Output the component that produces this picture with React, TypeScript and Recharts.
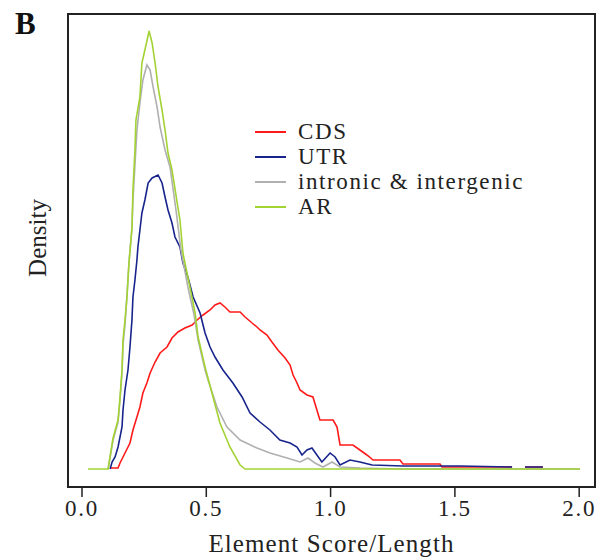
import React from "react";
import { LineChart, Line, XAxis, YAxis, Legend, ReferenceArea } from "recharts";

const seriesNames = ["CDS", "UTR", "intronic & intergenic", "AR"];
const seriesColors = ["#ff1a1a", "#17248c", "#b0b0b0", "#a2d332"];

const xTicks = [0, 0.5, 1, 1.5, 2];

// [element score / length, density]  (null = gap in the curve)
const cds: [number, number | null][] = [
  [0.113, 0.01], [0.145, 0.01], [0.153, 0.06], [0.173, 0.16], [0.193, 0.26], [0.205, 0.39],
  [0.221, 0.52], [0.233, 0.62], [0.245, 0.76], [0.261, 0.86], [0.274, 0.96], [0.294, 1.07],
  [0.314, 1.16], [0.342, 1.22], [0.362, 1.31], [0.386, 1.37], [0.414, 1.41], [0.443, 1.44],
  [0.463, 1.49], [0.487, 1.54], [0.515, 1.59], [0.535, 1.64], [0.555, 1.66], [0.575, 1.62],
  [0.595, 1.57], [0.636, 1.57], [0.656, 1.52], [0.684, 1.46], [0.704, 1.42], [0.716, 1.39],
  [0.744, 1.34], [0.764, 1.27], [0.788, 1.19], [0.817, 1.11], [0.837, 1.04], [0.849, 0.94],
  [0.865, 0.86], [0.877, 0.79], [0.905, 0.74], [0.929, 0.72], [0.957, 0.49], [1.01, 0.49],
  [1.026, 0.42], [1.038, 0.24], [1.09, 0.24], [1.118, 0.19], [1.146, 0.14], [1.171, 0.09],
  [1.279, 0.09], [1.291, 0.05], [1.44, 0.05], [1.448, 0.02], [1.73, 0.02], [1.756, null],
  [1.782, 0.02], [1.854, 0.02],
];

const utr: [number, number | null][] = [
  [0.113, 0], [0.121, 0.07], [0.133, 0.12], [0.145, 0.22], [0.161, 0.42], [0.165, 0.59],
  [0.173, 0.79], [0.185, 0.99], [0.193, 1.22], [0.201, 1.49], [0.205, 1.72], [0.213, 1.89],
  [0.221, 2.09], [0.225, 2.22], [0.233, 2.39], [0.241, 2.56], [0.253, 2.69], [0.266, 2.86],
  [0.282, 2.91], [0.306, 2.94], [0.322, 2.86], [0.334, 2.72], [0.346, 2.59], [0.362, 2.46],
  [0.374, 2.32], [0.394, 2.22], [0.406, 2.06], [0.426, 1.92], [0.447, 1.72], [0.475, 1.56],
  [0.495, 1.36], [0.515, 1.22], [0.535, 1.12], [0.567, 0.99], [0.607, 0.86], [0.644, 0.72],
  [0.676, 0.56], [0.716, 0.47], [0.756, 0.39], [0.796, 0.29], [0.837, 0.26], [0.865, 0.22],
  [0.885, 0.14], [0.905, 0.19], [0.925, 0.21], [0.965, 0.07], [0.998, 0.16], [1.018, 0.12],
  [1.038, 0.04], [1.078, 0.09], [1.118, 0.07], [1.167, 0.04], [1.291, 0.03], [1.521, 0.03],
  [1.73, 0.02], [1.756, null], [1.782, 0.02], [1.854, 0.02],
];

const intronic: [number, number | null][] = [
  [0.105, 0], [0.125, 0.29], [0.145, 0.47], [0.153, 0.69], [0.161, 0.97], [0.165, 1.24],
  [0.173, 1.44], [0.181, 1.74], [0.189, 2.07], [0.201, 2.41], [0.205, 2.69], [0.213, 3.04],
  [0.221, 3.39], [0.233, 3.66], [0.245, 3.89], [0.261, 4.04], [0.274, 3.99], [0.286, 3.82],
  [0.302, 3.62], [0.314, 3.42], [0.334, 3.19], [0.354, 3.02], [0.378, 2.59], [0.398, 2.19],
  [0.426, 1.82], [0.451, 1.54], [0.467, 1.29], [0.495, 0.99], [0.507, 0.89], [0.543, 0.62],
  [0.583, 0.42], [0.636, 0.29], [0.704, 0.21], [0.756, 0.16], [0.825, 0.11], [0.877, 0.07],
  [0.909, 0.11], [0.937, 0.06], [0.969, 0.02], [1.006, 0.07], [1.038, 0.02], [1.118, 0.01],
  [1.279, 0], [2.003, 0],
];

const ar: [number, number | null][] = [
  [0.024, 0], [0.105, 0], [0.125, 0.31], [0.145, 0.49], [0.153, 0.72], [0.161, 0.99],
  [0.165, 1.29], [0.173, 1.49], [0.181, 1.72], [0.189, 2.06], [0.201, 2.41], [0.205, 2.79],
  [0.213, 3.19], [0.217, 3.49], [0.233, 3.72], [0.241, 4.06], [0.253, 4.19], [0.27, 4.38],
  [0.282, 4.26], [0.294, 4.06], [0.306, 3.82], [0.322, 3.59], [0.334, 3.39], [0.346, 3.16],
  [0.362, 2.99], [0.394, 2.49], [0.406, 2.16], [0.434, 1.82], [0.455, 1.56], [0.467, 1.32],
  [0.495, 1.02], [0.527, 0.72], [0.555, 0.46], [0.595, 0.22], [0.636, 0.04], [0.656, 0],
  [2.003, 0],
];

const seriesData = [cds, utr, intronic, ar];

const xDomain: [number, number] = [-0.0563, 2.0636];
const yDomain: [number, number] = [-0.18, 4.55];

const serif = "'Liberation Serif', 'Times New Roman', serif";

function toPoints(arr: [number, number | null][]) {
  return arr.map(([x, y]) => ({ x, y }));
}

function LegendBox() {
  return (
    <div style={{ fontFamily: serif, fontSize: 23, letterSpacing: 1.6, color: "#222" }}>
      {seriesNames.map((name, i) => (
        <div key={name} style={{ display: "flex", alignItems: "center", height: 25 }}>
          <span style={{ display: "inline-block", width: 31, height: 2, background: seriesColors[i], marginRight: 12 }} />
          <span style={{ lineHeight: "25px", whiteSpace: "nowrap" }}>{name}</span>
        </div>
      ))}
    </div>
  );
}

export default function App() {
  return (
    <div style={{ position: "relative", width: 596, height: 552 }}>
      <LineChart width={596} height={552} margin={{ top: 6, right: 9, bottom: 3, left: 60 }}>
        <XAxis
          dataKey="x"
          type="number"
          domain={xDomain}
          allowDataOverflow
          ticks={xTicks}
          tickFormatter={(v: number) => v.toFixed(1)}
          axisLine={false}
          tickSize={10}
          tickMargin={3}
          height={70}
          tickLine={{ stroke: "#222", strokeWidth: 1.5 }}
          tick={{ fill: "#222", fontSize: 23, fontFamily: serif, letterSpacing: 1.7 }}
          label={{
            value: "Element Score/Length",
            position: "insideBottom",
            offset: 5,
            fill: "#222",
            fontSize: 25,
            fontFamily: serif,
            letterSpacing: 1.1,
          }}
        />
        <YAxis type="number" domain={yDomain} allowDataOverflow hide />
        <ReferenceArea
          x1={xDomain[0]}
          x2={xDomain[1]}
          y1={yDomain[0]}
          y2={yDomain[1]}
          fill="none"
          stroke="#222"
          strokeWidth={2}
          ifOverflow="visible"
        />
        {seriesData.map((arr, i) => (
          <Line
            key={seriesNames[i]}
            data={toPoints(arr)}
            dataKey="y"
            name={seriesNames[i]}
            type="linear"
            stroke={seriesColors[i]}
            strokeWidth={1.6}
            dot={false}
            activeDot={false}
            isAnimationActive={false}
          />
        ))}
        <Legend
          layout="horizontal"
          verticalAlign="middle"
          align="center"
          content={() => <LegendBox />}
          wrapperStyle={{ left: 247, top: 111, width: 300, height: 100 }}
        />
      </LineChart>
      <div
        style={{
          position: "absolute",
          left: 7,
          top: 0,
          fontFamily: serif,
          fontWeight: "bold",
          fontSize: 31,
          lineHeight: 1,
          color: "#111",
        }}
      >
        B
      </div>
      <div
        style={{
          position: "absolute",
          left: 29,
          top: 230,
          transform: "translate(-50%, -50%) rotate(-90deg)",
          fontFamily: serif,
          fontSize: 25,
          lineHeight: 1,
          color: "#222",
          whiteSpace: "nowrap",
        }}
      >
        Density
      </div>
    </div>
  );
}
